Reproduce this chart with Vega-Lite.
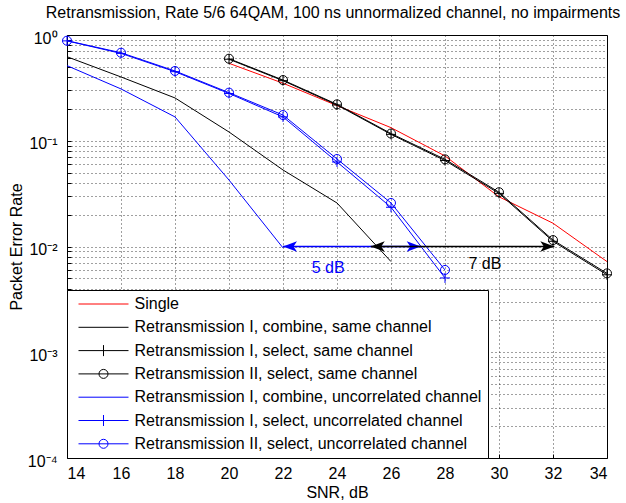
{
  "$schema": "https://vega.github.io/schema/vega-lite/v6.json",
  "width": 540,
  "height": 423,
  "autosize": "none",
  "padding": {"left": 67, "top": 35, "right": 19, "bottom": 45},
  "background": "white",
  "config": {
    "font": "Liberation Sans",
    "view": {"stroke": "black", "strokeWidth": 1},
    "axis": {"labelFont": "Liberation Sans", "titleFont": "Liberation Sans", "labelFontSize": 16, "titleFontSize": 16, "titleFontWeight": "normal", "labelColor": "black", "titleColor": "black", "domain": false, "grid": true, "gridColor": "black", "gridDash": [1, 3], "gridOpacity": 0.75, "tickColor": "black", "tickSize": -4, "tickWidth": 1}
  },
  "title": {"text": "Retransmission, Rate 5/6 64QAM, 100 ns unnormalized channel, no impairments", "font": "Liberation Sans", "fontSize": 16, "fontWeight": "normal", "color": "black", "anchor": "middle", "offset": 9, "dx": -4},
  "datasets": {
    "curves": [
      {"series": "Single", "snr": 20, "per": 0.54},
      {"series": "Single", "snr": 22, "per": 0.35},
      {"series": "Single", "snr": 24, "per": 0.215},
      {"series": "Single", "snr": 26, "per": 0.133},
      {"series": "Single", "snr": 28, "per": 0.0718},
      {"series": "Single", "snr": 30, "per": 0.0295},
      {"series": "Single", "snr": 32, "per": 0.0166},
      {"series": "Single", "snr": 34, "per": 0.0072},
      {"series": "Retransmission I, combine, same channel", "snr": 14, "per": 0.623},
      {"series": "Retransmission I, combine, same channel", "snr": 16, "per": 0.401},
      {"series": "Retransmission I, combine, same channel", "snr": 18, "per": 0.254},
      {"series": "Retransmission I, combine, same channel", "snr": 20, "per": 0.121},
      {"series": "Retransmission I, combine, same channel", "snr": 22, "per": 0.0529},
      {"series": "Retransmission I, combine, same channel", "snr": 24, "per": 0.0258},
      {"series": "Retransmission I, combine, same channel", "snr": 26, "per": 0.0072},
      {"series": "Retransmission I, select, same channel", "snr": 20, "per": 0.59},
      {"series": "Retransmission I, select, same channel", "snr": 22, "per": 0.37},
      {"series": "Retransmission I, select, same channel", "snr": 24, "per": 0.218},
      {"series": "Retransmission I, select, same channel", "snr": 26, "per": 0.115},
      {"series": "Retransmission I, select, same channel", "snr": 28, "per": 0.065},
      {"series": "Retransmission I, select, same channel", "snr": 30, "per": 0.0318},
      {"series": "Retransmission I, select, same channel", "snr": 32, "per": 0.0112},
      {"series": "Retransmission I, select, same channel", "snr": 34, "per": 0.0054},
      {"series": "Retransmission II, select, same channel", "snr": 20, "per": 0.597},
      {"series": "Retransmission II, select, same channel", "snr": 22, "per": 0.375},
      {"series": "Retransmission II, select, same channel", "snr": 24, "per": 0.221},
      {"series": "Retransmission II, select, same channel", "snr": 26, "per": 0.117},
      {"series": "Retransmission II, select, same channel", "snr": 28, "per": 0.0667},
      {"series": "Retransmission II, select, same channel", "snr": 30, "per": 0.0326},
      {"series": "Retransmission II, select, same channel", "snr": 32, "per": 0.0115},
      {"series": "Retransmission II, select, same channel", "snr": 34, "per": 0.00557},
      {"series": "Retransmission I, combine, uncorrelated channel", "snr": 14, "per": 0.513},
      {"series": "Retransmission I, combine, uncorrelated channel", "snr": 16, "per": 0.309},
      {"series": "Retransmission I, combine, uncorrelated channel", "snr": 18, "per": 0.168},
      {"series": "Retransmission I, combine, uncorrelated channel", "snr": 20, "per": 0.0425},
      {"series": "Retransmission I, combine, uncorrelated channel", "snr": 22, "per": 0.0097},
      {"series": "Retransmission I, select, uncorrelated channel", "snr": 14, "per": 0.88},
      {"series": "Retransmission I, select, uncorrelated channel", "snr": 16, "per": 0.67},
      {"series": "Retransmission I, select, uncorrelated channel", "snr": 18, "per": 0.45},
      {"series": "Retransmission I, select, uncorrelated channel", "snr": 20, "per": 0.28},
      {"series": "Retransmission I, select, uncorrelated channel", "snr": 22, "per": 0.168},
      {"series": "Retransmission I, select, uncorrelated channel", "snr": 24, "per": 0.063},
      {"series": "Retransmission I, select, uncorrelated channel", "snr": 26, "per": 0.0235},
      {"series": "Retransmission I, select, uncorrelated channel", "snr": 28, "per": 0.00504},
      {"series": "Retransmission II, select, uncorrelated channel", "snr": 14, "per": 0.883},
      {"series": "Retransmission II, select, uncorrelated channel", "snr": 16, "per": 0.68},
      {"series": "Retransmission II, select, uncorrelated channel", "snr": 18, "per": 0.457},
      {"series": "Retransmission II, select, uncorrelated channel", "snr": 20, "per": 0.285},
      {"series": "Retransmission II, select, uncorrelated channel", "snr": 22, "per": 0.175},
      {"series": "Retransmission II, select, uncorrelated channel", "snr": 24, "per": 0.0672},
      {"series": "Retransmission II, select, uncorrelated channel", "snr": 26, "per": 0.0258},
      {"series": "Retransmission II, select, uncorrelated channel", "snr": 28, "per": 0.006}
    ],
    "gaps": [
      {"gap": "5 dB", "from": 22, "to": 27.1, "per": 0.01, "labelSnr": 23.67, "labelPer": 0.0062},
      {"gap": "7 dB", "from": 25.25, "to": 32.05, "per": 0.01, "labelSnr": 29.48, "labelPer": 0.00683}
    ]
  },
  "encoding": {
    "x": {"type": "quantitative", "scale": {"domain": [14, 34], "nice": false, "zero": false},
      "axis": {"title": "SNR, dB", "values": [14, 16, 18, 20, 22, 24, 26, 28, 30, 32, 34], "labelPadding": 11, "titlePadding": 3}},
    "y": {"type": "quantitative", "scale": {"type": "log", "domain": [0.0001, 1], "nice": false},
      "axis": {"title": "Packet Error Rate", "titlePadding": 3,
        "values": [0.0001, 0.0002, 0.0003, 0.0004, 0.0005, 0.0006, 0.0007, 0.0008, 0.0009, 0.001, 0.002, 0.003, 0.004, 0.005, 0.006, 0.007, 0.008, 0.009, 0.01, 0.02, 0.03, 0.04, 0.05, 0.06, 0.07, 0.08, 0.09, 0.1, 0.2, 0.3, 0.4, 0.5, 0.6, 0.7, 0.8, 0.9, 1],
        "labelExpr": "datum.value == 1 ? '10⁰' : datum.value == 0.1 ? '10⁻¹' : datum.value == 0.01 ? '10⁻²' : datum.value == 0.001 ? '10⁻³' : datum.value == 0.0001 ? '10⁻⁴' : ''",
        "labelPadding": 14, "labelBaseline": "middle", "labelOffset": 3}}
  },
  "layer": [
    {
      "data": {"name": "curves"},
      "mark": {"type": "line", "strokeWidth": 1, "clip": true},
      "encoding": {
        "x": {"field": "snr"},
        "y": {"field": "per"},
        "color": {"field": "series", "type": "nominal",
          "scale": {"domain": ["Single", "Retransmission I, combine, same channel", "Retransmission I, select, same channel", "Retransmission II, select, same channel", "Retransmission I, combine, uncorrelated channel", "Retransmission I, select, uncorrelated channel", "Retransmission II, select, uncorrelated channel"],
            "range": ["#ff0000", "#000000", "#000000", "#000000", "#0000ff", "#0000ff", "#0000ff"]},
          "legend": {"title": null, "orient": "bottom-left", "offset": 0, "padding": 6, "strokeColor": "black", "fillColor": "white",
            "labelFont": "Liberation Sans", "labelFontSize": 16, "labelColor": "black", "labelLimit": 500,
            "symbolSize": 100, "symbolStrokeWidth": 1, "symbolOffset": 22.5, "labelOffset": 23, "rowPadding": 7.3,
            "encode": {"symbols": {"update": {
              "shape": {"signal": "indexof(datum.value, 'select') >= 0 ? (indexof(datum.value, 'II') >= 0 ? 'M-5,0H5M0.9,0A0.9,0.9 0 1,1 -0.9,0A0.9,0.9 0 1,1 0.9,0' : 'M-5,0H5M0,-1.1V1.1') : 'M-5,0H5'"},
              "stroke": {"signal": "indexof(datum.value, 'uncorrelated') >= 0 ? '#0000ff' : (datum.value == 'Single' ? '#ff0000' : '#000000')"},
              "fill": {"value": "transparent"},
              "opacity": {"value": 1},
              "strokeWidth": {"value": 1}}}}}},
        "order": {"field": "snr"}
      }
    },
    {
      "data": {"name": "curves"},
      "transform": [{"filter": {"field": "series", "oneOf": ["Retransmission I, select, same channel", "Retransmission I, select, uncorrelated channel"]}}],
      "mark": {"type": "point", "shape": "M-1,0H1M0,-1V1", "size": 100, "filled": false, "strokeWidth": 1, "opacity": 1},
      "encoding": {"x": {"field": "snr"}, "y": {"field": "per"}, "color": {"field": "series", "type": "nominal"}}
    },
    {
      "data": {"name": "curves"},
      "transform": [{"filter": {"field": "series", "oneOf": ["Retransmission II, select, same channel", "Retransmission II, select, uncorrelated channel"]}}],
      "mark": {"type": "point", "shape": "circle", "size": 81, "filled": false, "strokeWidth": 1, "opacity": 1},
      "encoding": {"x": {"field": "snr"}, "y": {"field": "per"}, "color": {"field": "series", "type": "nominal"}}
    },
    {
      "data": {"name": "gaps"},
      "transform": [{"filter": "datum.gap == '5 dB'"}],
      "layer": [
        {"mark": {"type": "rule", "color": "#0000ff", "strokeWidth": 1.6}, "encoding": {"x": {"field": "from"}, "x2": {"field": "to"}, "y": {"field": "per"}}},
        {"mark": {"type": "point", "shape": "M0,0L2,-0.75L1.5,0L2,0.75Z", "size": 196, "filled": true, "color": "#0000ff", "opacity": 1}, "encoding": {"x": {"field": "from"}, "y": {"field": "per"}}},
        {"mark": {"type": "point", "shape": "M0,0L-2,-0.75L-1.5,0L-2,0.75Z", "size": 196, "filled": true, "color": "#0000ff", "opacity": 1}, "encoding": {"x": {"field": "to"}, "y": {"field": "per"}}},
        {"mark": {"type": "text", "color": "#0000ff", "font": "Liberation Sans", "fontSize": 16, "baseline": "middle"}, "encoding": {"x": {"field": "labelSnr"}, "y": {"field": "labelPer"}, "text": {"field": "gap"}}}
      ]
    },
    {
      "data": {"name": "gaps"},
      "transform": [{"filter": "datum.gap == '7 dB'"}],
      "layer": [
        {"mark": {"type": "rule", "color": "#000000", "strokeWidth": 1.3}, "encoding": {"x": {"field": "from"}, "x2": {"field": "to"}, "y": {"field": "per"}}},
        {"mark": {"type": "point", "shape": "M0,0L2,-0.75L1.5,0L2,0.75Z", "size": 196, "filled": true, "color": "#000000", "opacity": 1}, "encoding": {"x": {"field": "from"}, "y": {"field": "per"}}},
        {"mark": {"type": "point", "shape": "M0,0L-2,-0.75L-1.5,0L-2,0.75Z", "size": 196, "filled": true, "color": "#000000", "opacity": 1}, "encoding": {"x": {"field": "to"}, "y": {"field": "per"}}},
        {"mark": {"type": "text", "color": "#000000", "font": "Liberation Sans", "fontSize": 16, "baseline": "middle"}, "encoding": {"x": {"field": "labelSnr"}, "y": {"field": "labelPer"}, "text": {"field": "gap"}}}
      ]
    }
  ]
}
